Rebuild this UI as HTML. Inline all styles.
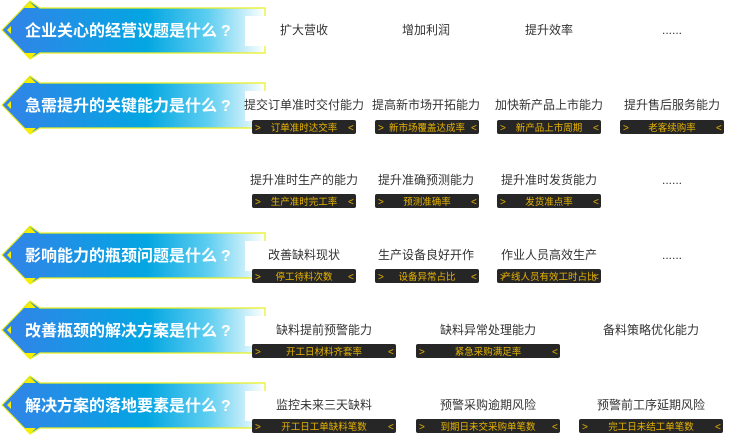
<!DOCTYPE html>
<html><head><meta charset="utf-8"><style>
body{margin:0;background:#fff;width:731px;height:435px;overflow:hidden}
svg{display:block}
.t{font-family:"Liberation Sans","Noto Sans CJK SC",sans-serif}
</style></head><body>
<svg width="731" height="435" viewBox="0 0 731 435" xmlns="http://www.w3.org/2000/svg">
<defs>
<linearGradient id="g" x1="0" x2="1" y1="0" y2="0">
<stop offset="0" stop-color="#3482e8"/><stop offset="0.55" stop-color="#03a6e2"/><stop offset="0.78" stop-color="#5ccdf0"/><stop offset="1" stop-color="#ffffff"/>
</linearGradient>
<g id="ban">
<polygon points="2,0 30,-29 40,-22 265,-22 265,23 40,23 30,29" fill="url(#g)" stroke="#e8f020" stroke-width="1.2"/>
<polygon points="24,-22 30,-28 36,-22" fill="#f5f000"/>
<polygon points="24,23 30,29 36,23" fill="#f5f000"/>
<polygon points="7,0 11,-4 11,4" fill="#f5f000"/>
<rect x="245" y="-14" width="25" height="30" fill="#fff"/>
</g>
<g id="b104"><rect x="0" y="0" width="104" height="14" rx="2" fill="#262626"/></g>
<g id="b144"><rect x="0" y="0" width="144" height="14" rx="2" fill="#262626"/></g>
</defs>
<g class="t">
<use href="#ban" y="30"/><use href="#ban" y="105"/><use href="#ban" y="255"/><use href="#ban" y="330"/><use href="#ban" y="405"/>
<g fill="#fff" font-size="16" font-weight="bold">
<text x="25" y="36">企业关心的经营议题是什么<tspan dx="4">?</tspan></text>
<text x="25" y="111">急需提升的关键能力是什么<tspan dx="4">?</tspan></text>
<text x="25" y="261">影响能力的瓶颈问题是什么<tspan dx="4">?</tspan></text>
<text x="25" y="336">改善瓶颈的解决方案是什么<tspan dx="4">?</tspan></text>
<text x="25" y="411">解决方案的落地要素是什么<tspan dx="4">?</tspan></text>
</g>
<g font-size="12" fill="#333" text-anchor="middle">
<text x="304" y="34">扩大营收</text><text x="426" y="34">增加利润</text><text x="549" y="34">提升效率</text><text x="672" y="34">......</text>
<text x="304" y="109">提交订单准时交付能力</text><text x="426" y="109">提高新市场开拓能力</text><text x="549" y="109">加快新产品上市能力</text><text x="672" y="109">提升售后服务能力</text>
<text x="304" y="184">提升准时生产的能力</text><text x="426" y="184">提升准确预测能力</text><text x="549" y="184">提升准时发货能力</text><text x="672" y="184">......</text>
<text x="304" y="259">改善缺料现状</text><text x="426" y="259">生产设备良好开作</text><text x="549" y="259">作业人员高效生产</text><text x="672" y="259">......</text>
<text x="324" y="334">缺料提前预警能力</text><text x="488" y="334">缺料异常处理能力</text><text x="651" y="334">备料策略优化能力</text>
<text x="324" y="409">监控未来三天缺料</text><text x="488" y="409">预警采购逾期风险</text><text x="651" y="409">预警前工序延期风险</text>
</g>
<use href="#b104" x="252" y="120"/><use href="#b104" x="375" y="120"/><use href="#b104" x="497" y="120"/><use href="#b104" x="620" y="120"/>
<use href="#b104" x="252" y="194"/><use href="#b104" x="375" y="194"/><use href="#b104" x="497" y="194"/>
<use href="#b104" x="252" y="269"/><use href="#b104" x="375" y="269"/><use href="#b104" x="497" y="269"/>
<use href="#b144" x="252" y="344"/><use href="#b144" x="416" y="344"/>
<use href="#b144" x="252" y="419"/><use href="#b144" x="416" y="419"/><use href="#b144" x="579" y="419"/>
<g font-size="9.5" fill="#e8b400" text-anchor="middle">
<text x="304" y="131">订单准时达交率</text><text x="427" y="131">新市场覆盖达成率</text><text x="549" y="131">新产品上市周期</text><text x="672" y="131">老客续购率</text>
<text x="304" y="205">生产准时完工率</text><text x="427" y="205">预测准确率</text><text x="549" y="205">发货准点率</text>
<text x="304" y="280">停工待料次数</text><text x="427" y="280">设备异常占比</text><text x="549" y="280">产线人员有效工时占比</text>
<text x="324" y="355">开工日材料齐套率</text><text x="488" y="355">紧急采购满足率</text>
<text x="324" y="430">开工日工单缺料笔数</text><text x="488" y="430">到期日未交采购单笔数</text><text x="651" y="430">完工日未结工单笔数</text>
</g>
<g font-size="10" fill="#e8b400">
<text x="255" y="131">&gt;</text><text x="348" y="131">&lt;</text><text x="378" y="131">&gt;</text><text x="471" y="131">&lt;</text><text x="500" y="131">&gt;</text><text x="593" y="131">&lt;</text><text x="623" y="131">&gt;</text><text x="716" y="131">&lt;</text>
<text x="255" y="205">&gt;</text><text x="348" y="205">&lt;</text><text x="378" y="205">&gt;</text><text x="471" y="205">&lt;</text><text x="500" y="205">&gt;</text><text x="593" y="205">&lt;</text>
<text x="255" y="280">&gt;</text><text x="348" y="280">&lt;</text><text x="378" y="280">&gt;</text><text x="471" y="280">&lt;</text><text x="500" y="280">&gt;</text><text x="593" y="280">&lt;</text>
<text x="255" y="355">&gt;</text><text x="388" y="355">&lt;</text><text x="419" y="355">&gt;</text><text x="552" y="355">&lt;</text>
<text x="255" y="430">&gt;</text><text x="388" y="430">&lt;</text><text x="419" y="430">&gt;</text><text x="552" y="430">&lt;</text><text x="582" y="430">&gt;</text><text x="715" y="430">&lt;</text>
</g>
</g>
</svg>
</body></html>
